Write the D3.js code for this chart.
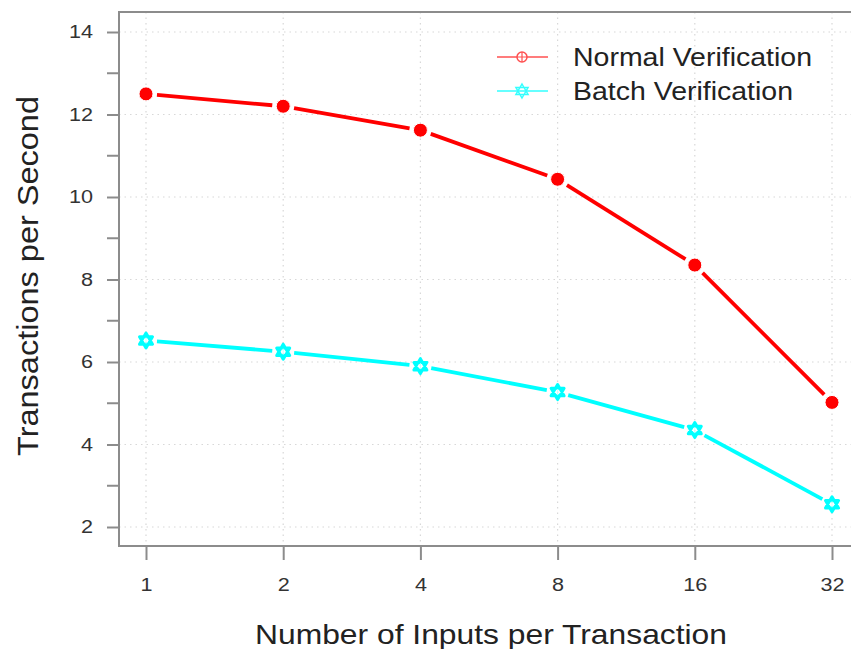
<!DOCTYPE html>
<html>
<head>
<meta charset="utf-8">
<script src="https://cdn.jsdelivr.net/npm/d3@7"></script>
<style>
  body { margin: 0; background: #fff; }
  text { font-family: "Liberation Sans", Arial, sans-serif; }
</style>
</head>
<body>
<div id="chart"></div>
<script>
var width = 851,
    height = 649;

// data
var inputs = [1, 2, 4, 8, 16, 32];
var normalTps = [12.5, 12.2, 11.62, 10.43, 8.35, 5.02];
var batchTps = [6.52, 6.25, 5.9, 5.27, 4.35, 2.55];
var yTicks = [2, 4, 6, 8, 10, 12, 14];
var yMinor = [3, 5, 7, 9, 11, 13];

var plotLeft = 119, plotTop = 12, plotBottom = 546;

var svg = d3.select('#chart').append('svg')
    .attr('width', width)
    .attr('height', height);

var x = d3.scaleLog().base(2)
    .domain([1, 32])
    .range([146, 832]);

var y = d3.scaleLinear()
    .domain([2, 14])
    .range([527, 32]);

// widen text a little, the original looks horizontally stretched
function stretch(sel, k) {
    sel.each(function() {
        var w = this.getComputedTextLength();
        d3.select(this)
            .attr('textLength', w * k)
            .attr('lengthAdjust', 'spacingAndGlyphs');
    });
}

// grid
svg.append('g').selectAll('line')
    .data(inputs).enter().append('line')
    .attr('x1', d => x(d)).attr('x2', d => x(d))
    .attr('y1', plotTop).attr('y2', plotBottom)
    .style('stroke', '#d8d8d8')
    .style('stroke-dasharray', '1.5,4')
    .style('stroke-width', 1.2);

svg.append('g').selectAll('line')
    .data(yTicks).enter().append('line')
    .attr('x1', plotLeft).attr('x2', width)
    .attr('y1', d => y(d)).attr('y2', d => y(d))
    .style('stroke', '#d8d8d8')
    .style('stroke-dasharray', '1.5,4')
    .style('stroke-width', 1.2);

// frame (left, top, bottom)
svg.append('path')
    .attr('d', 'M' + width + ',' + plotTop + 'H' + plotLeft + 'V' + plotBottom + 'H' + width)
    .style('fill', 'none')
    .style('stroke', '#8c8c8c')
    .style('stroke-width', 2);

// y axis
var yAxis = d3.axisLeft(y)
    .tickValues(yTicks)
    .tickSize(12)
    .tickPadding(14);
var gy = svg.append('g')
    .attr('transform', 'translate(' + plotLeft + ',0)')
    .call(yAxis);
gy.select('.domain').remove();
gy.selectAll('line').style('stroke', '#8c8c8c').style('stroke-width', 2);
gy.selectAll('text').style('font-size', '18px').style('fill', '#333');
stretch(gy.selectAll('text'), 1.2);

gy.selectAll('.minor')
    .data(yMinor).enter().append('line')
    .attr('x1', -12).attr('x2', 0)
    .attr('y1', d => y(d)).attr('y2', d => y(d))
    .style('stroke', '#8c8c8c').style('stroke-width', 2);

// x axis
var xAxis = d3.axisBottom(x)
    .tickValues(inputs)
    .tickFormat(d3.format('d'))
    .tickSize(14)
    .tickPadding(18);
var gx = svg.append('g')
    .attr('transform', 'translate(0,' + plotBottom + ')')
    .call(xAxis);
gx.select('.domain').remove();
gx.selectAll('line').style('stroke', '#8c8c8c').style('stroke-width', 2);
gx.selectAll('text').style('font-size', '18px').style('fill', '#333');
stretch(gx.selectAll('text'), 1.2);

// axis titles
svg.append('text')
    .attr('x', 491).attr('y', 644)
    .attr('text-anchor', 'middle')
    .style('font-size', '28px').style('fill', '#222')
    .attr('textLength', 472)
    .attr('lengthAdjust', 'spacingAndGlyphs')
    .text('Number of Inputs per Transaction');

svg.append('text')
    .attr('transform', 'translate(38,276) rotate(-90)')
    .attr('text-anchor', 'middle')
    .style('font-size', '29px').style('fill', '#222')
    .attr('textLength', 360)
    .attr('lengthAdjust', 'spacingAndGlyphs')
    .text('Transactions per Second');

// lines with gaps around points (like type="b")
function gappedSegments(vals, gap) {
    var segs = [];
    for (var i = 0; i < vals.length - 1; i++) {
        var x0 = x(inputs[i]), y0 = y(vals[i]),
            x1 = x(inputs[i + 1]), y1 = y(vals[i + 1]);
        var len = Math.hypot(x1 - x0, y1 - y0);
        var ux = (x1 - x0) / len, uy = (y1 - y0) / len;
        segs.push([x0 + ux * gap, y0 + uy * gap, x1 - ux * gap, y1 - uy * gap]);
    }
    return segs;
}

function drawSeries(vals, color) {
    svg.append('g').selectAll('line')
        .data(gappedSegments(vals, 11)).enter().append('line')
        .attr('x1', d => d[0]).attr('y1', d => d[1])
        .attr('x2', d => d[2]).attr('y2', d => d[3])
        .style('stroke', color)
        .style('stroke-width', 3.8);
}

drawSeries(normalTps, '#ff0000');
drawSeries(batchTps, '#00ffff');

// markers
svg.append('g').selectAll('circle')
    .data(normalTps).enter().append('circle')
    .attr('cx', (d, i) => x(inputs[i]))
    .attr('cy', d => y(d))
    .attr('r', 7)
    .style('fill', '#ff0000')
    .style('stroke', '#fff')
    .style('stroke-width', 1);

function starPath(cx, cy, s) {
    var h = s * 0.866;
    return 'M' + cx + ',' + (cy - s) + 'L' + (cx + h) + ',' + (cy + s / 2) + 'L' + (cx - h) + ',' + (cy + s / 2) + 'Z' +
           'M' + cx + ',' + (cy + s) + 'L' + (cx + h) + ',' + (cy - s / 2) + 'L' + (cx - h) + ',' + (cy - s / 2) + 'Z';
}

svg.append('g').selectAll('path')
    .data(batchTps).enter().append('path')
    .attr('d', (d, i) => starPath(x(inputs[i]), y(d), 7.5))
    .style('fill', '#00ffff')
    .style('stroke', '#00ffff')
    .style('stroke-width', 3)
    .style('stroke-linejoin', 'round');

svg.append('g').selectAll('path')
    .data(batchTps).enter().append('path')
    .attr('d', (d, i) => 'M' + x(inputs[i]) + ',' + (y(d) - 3) + 'V' + (y(d) + 3))
    .style('stroke', '#c8ffff')
    .style('stroke-width', 1);

// legend
var legendItems = [
    {label: 'Normal Verification', color: '#ff5050', y: 57, len: 239},
    {label: 'Batch Verification', color: '#33ffff', y: 91, len: 220}
];

var lg = svg.append('g').selectAll('g')
    .data(legendItems).enter().append('g');

lg.append('line')
    .attr('x1', 497).attr('x2', 548)
    .attr('y1', d => d.y).attr('y2', d => d.y)
    .style('stroke', d => d.color)
    .style('stroke-width', 1.5);

lg.filter((d, i) => i === 0).append('circle')
    .attr('cx', 522).attr('cy', d => d.y).attr('r', 5)
    .style('fill', '#fff')
    .style('stroke', d => d.color)
    .style('stroke-width', 1.5);
lg.filter((d, i) => i === 0).append('path')
    .attr('d', d => 'M517,' + d.y + 'H527M522,' + (d.y - 5) + 'V' + (d.y + 5))
    .style('stroke', d => d.color)
    .style('stroke-width', 1.2);

lg.filter((d, i) => i === 1).append('path')
    .attr('d', d => starPath(522, d.y, 7))
    .style('fill', '#fff')
    .style('stroke', d => d.color)
    .style('stroke-width', 1.5);

lg.append('text')
    .attr('x', 573).attr('y', d => d.y + 9)
    .style('font-size', '25px')
    .style('fill', '#222')
    .attr('textLength', d => d.len)
    .attr('lengthAdjust', 'spacingAndGlyphs')
    .text(d => d.label);
</script>
</body>
</html>
